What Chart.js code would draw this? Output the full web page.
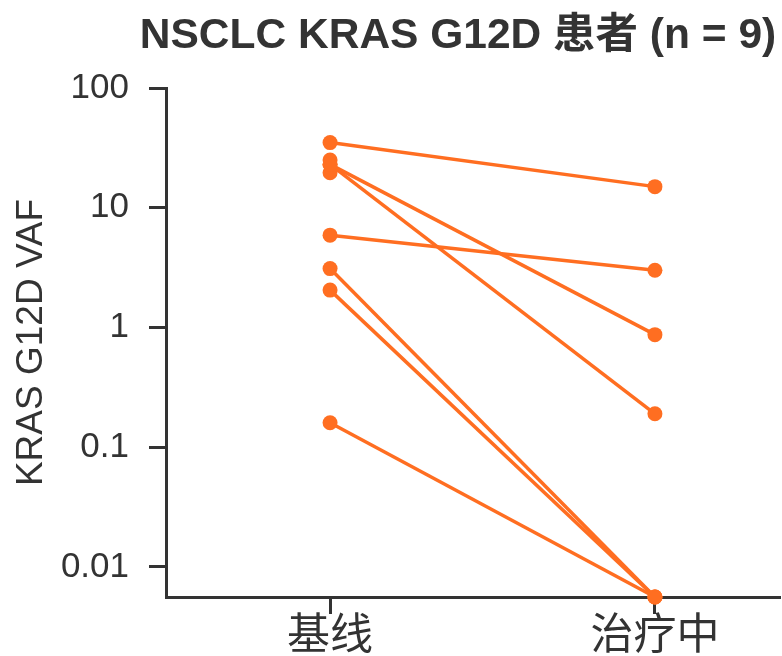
<!DOCTYPE html>
<html>
<head>
<meta charset="utf-8">
<script src="https://cdn.jsdelivr.net/npm/chart.js@4.4.1/dist/chart.umd.min.js"></script>
<style>
  body { margin: 0; background: #fff; }
  canvas { display: block; }
</style>
</head>
<body>
<canvas id="myChart" width="782" height="656"></canvas>
<script>
// data
const chartTitle = 'NSCLC KRAS G12D 患者 (n = 9)';
const categories = ['基线', '治疗中'];
const baseline    = [35, 23, 23, 5.9, 3.1, 2.05, 0.16, 25, 19.6];
const onTreatment = [15, 0.87, 0.19, 3.0, 0.0056, 0.0056, 0.0056, null, null];
const yTicks = [0.01, 0.1, 1, 10, 100];

const orange = '#ff6e21';
const ink = '#333333';
const latin = "'Liberation Sans', Arial, 'Noto Sans CJK SC', sans-serif";

// one dataset per patient
const datasets = baseline.map((b, i) => {
  const pts = [{x: 0, y: b}];
  if (onTreatment[i] !== null) pts.push({x: 1, y: onTreatment[i]});
  return {
    data: pts,
    showLine: true,
    borderColor: orange,
    backgroundColor: orange,
    borderWidth: 3.5,
    pointRadius: 7.5,
    pointHoverRadius: 7.5,
    pointBorderWidth: 0,
    clip: false
  };
});

// title sits a bit left of the plot centre, wider than the plot area
const titlePlugin = {
  id: 'wideTitle',
  afterDraw(chart) {
    const ctx = chart.ctx;
    ctx.save();
    ctx.font = 'bold 42.5px ' + latin;
    ctx.fillStyle = ink;
    ctx.textAlign = 'center';
    ctx.textBaseline = 'middle';
    ctx.fillText(chartTitle, 458, 36);
    ctx.restore();
  }
};

const config = {
  type: 'scatter',
  data: { datasets },
  plugins: [titlePlugin],
  options: {
    responsive: false,
    animation: false,
    layout: { autoPadding: false, padding: { top: 88, right: 2 } },
    plugins: {
      legend: { display: false },
      tooltip: { enabled: false },
      title: { display: false }
    },
    scales: {
      x: {
        type: 'linear',
        min: -0.505,
        max: 1.385,
        afterBuildTicks: (scale) => { scale.ticks = [{value: 0}, {value: 1}]; },
        afterFit: (scale) => { scale.height = 59; },
        ticks: {
          autoSkip: false,
          color: ink,
          padding: -7,
          font: { family: "'Noto Sans CJK SC', sans-serif", size: 43 },
          callback: (v) => categories[v]
        },
        grid: { drawOnChartArea: false, tickLength: 17, tickWidth: 3, tickColor: ink },
        border: { color: ink, width: 3 }
      },
      y: {
        type: 'logarithmic',
        min: 0.0056,
        max: 100,
        afterBuildTicks: (scale) => { scale.ticks = yTicks.map(v => ({value: v})); },
        afterFit: (scale) => { scale.width = 166; },
        ticks: {
          color: ink,
          padding: 20,
          font: { family: latin, size: 35 },
          callback: (v) => String(v)
        },
        grid: { drawOnChartArea: false, tickLength: 17, tickWidth: 3, tickColor: ink },
        border: { color: ink, width: 3 },
        title: {
          display: true,
          text: 'KRAS G12D VAF',
          color: ink,
          font: { family: latin, size: 37 },
          padding: { top: 10, bottom: 0 }
        }
      }
    }
  }
};

const myChart = new Chart(document.getElementById('myChart'), config);
</script>
</body>
</html>
